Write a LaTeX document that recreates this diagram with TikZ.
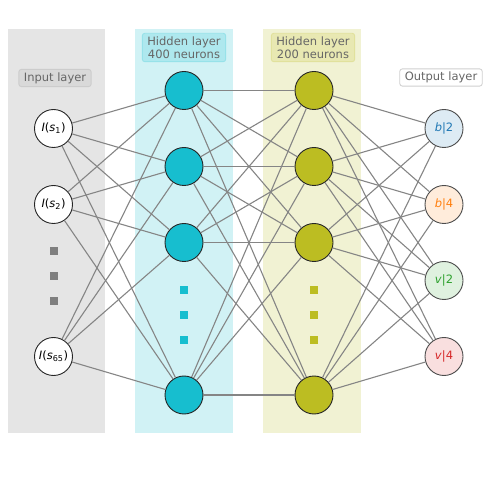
\documentclass[tikz,border=0pt]{standalone}
\usepackage{fontspec}
\setmainfont{DejaVu Sans}

\definecolor{tabgray}{HTML}{7F7F7F}
\definecolor{tabcyan}{HTML}{17BECF}
\definecolor{tabolive}{HTML}{BCBD22}
\definecolor{tabblue}{HTML}{1F77B4}
\definecolor{taborange}{HTML}{FF7F0E}
\definecolor{tabgreen}{HTML}{2CA02C}
\definecolor{tabred}{HTML}{D62728}
\definecolor{linkgray}{HTML}{858585}
\definecolor{labeltext}{HTML}{666666}

\begin{document}
\begin{tikzpicture}[x=1pt,y=-1pt,
  neuron/.style={draw=black!85,circle,minimum size=38pt,inner sep=0pt,line width=0.9pt,
    font=\fontsize{11.5}{13}\selectfont},
  outneuron/.style={neuron,draw=black!70},
  link/.style={draw=linkgray,line width=1.1pt},
  layerlabel/.style={draw,rounded corners=2.5pt,line width=0.9pt,align=center,text=labeltext,
    font=\fontsize{11.5}{13.5}\selectfont,inner xsep=5pt,inner ysep=3pt},
  dot/.style={minimum size=8pt,inner sep=0pt}]
\useasboundingbox (0,0) rectangle (498,486);

% layer bands
\fill[tabgray!20] (8,29) rectangle (105,433);
\fill[tabcyan!20] (135,29) rectangle (233,433);
\fill[tabolive!20] (263,29) rectangle (361,433);

% layer labels
\node[layerlabel,fill=tabgray!30,draw=tabgray!40] (inlabel) at (55,78) {Input layer};
\node[layerlabel,fill=tabcyan!35,draw=tabcyan!45] (h1label) at (184,47.5) {Hidden layer\\400 neurons};
\node[layerlabel,fill=tabolive!35,draw=tabolive!45] (h2label) at (313,47.5) {Hidden layer\\200 neurons};
\node[layerlabel,fill=white,draw=black!18] (outlabel) at (441,77.5) {Output layer};

% input layer
\node[neuron,fill=white] (in1) at (53.5,128.5) {\textit{I}(\textit{s}\textsubscript{1})};
\node[neuron,fill=white] (in2) at (53.5,204.5) {\textit{I}(\textit{s}\textsubscript{2})};
\node[neuron,fill=white] (in3) at (53.5,356.5) {\textit{I}(\textit{s}\textsubscript{65})};

% first hidden layer
\node[neuron,fill=tabcyan] (ha1) at (184,90.5) {};
\node[neuron,fill=tabcyan] (ha2) at (184,166.5) {};
\node[neuron,fill=tabcyan] (ha3) at (184,242.5) {};
\node[neuron,fill=tabcyan] (ha4) at (184,395) {};

% second hidden layer
\node[neuron,fill=tabolive] (hb1) at (314,90.5) {};
\node[neuron,fill=tabolive] (hb2) at (314,166.5) {};
\node[neuron,fill=tabolive] (hb3) at (314,242.5) {};
\node[neuron,fill=tabolive] (hb4) at (314,395) {};

% output layer
\node[outneuron,fill=tabblue!15] (out1) at (444,128.5) {\textcolor{tabblue}{\textit{b}|2}};
\node[outneuron,fill=taborange!15] (out2) at (444,204.5) {\textcolor{taborange}{\textit{b}|4}};
\node[outneuron,fill=tabgreen!15] (out3) at (444,280.5) {\textcolor{tabgreen}{\textit{v}|2}};
\node[outneuron,fill=tabred!15] (out4) at (444,356.5) {\textcolor{tabred}{\textit{v}|4}};

% ellipsis dots
\foreach \y [count=\i] in {251.5,276.5,301.5} {
  \node[dot,fill=tabgray] (indot\i) at (53.5,\y) {};
}
\foreach \y [count=\i] in {290,315,340} {
  \node[dot,fill=tabcyan] (hadot\i) at (184,\y) {};
  \node[dot,fill=tabolive] (hbdot\i) at (314,\y) {};
}

% connections
\foreach \a in {in1,in2,in3}
  \foreach \b in {ha1,ha2,ha3,ha4}
    \draw[link] (\a) -- (\b);
\foreach \a in {ha1,ha2,ha3,ha4}
  \foreach \b in {hb1,hb2,hb3,hb4}
    \draw[link] (\a) -- (\b);
\foreach \a in {hb1,hb2,hb3,hb4}
  \foreach \b in {out1,out2,out3,out4}
    \draw[link] (\a) -- (\b);
\end{tikzpicture}
\end{document}
